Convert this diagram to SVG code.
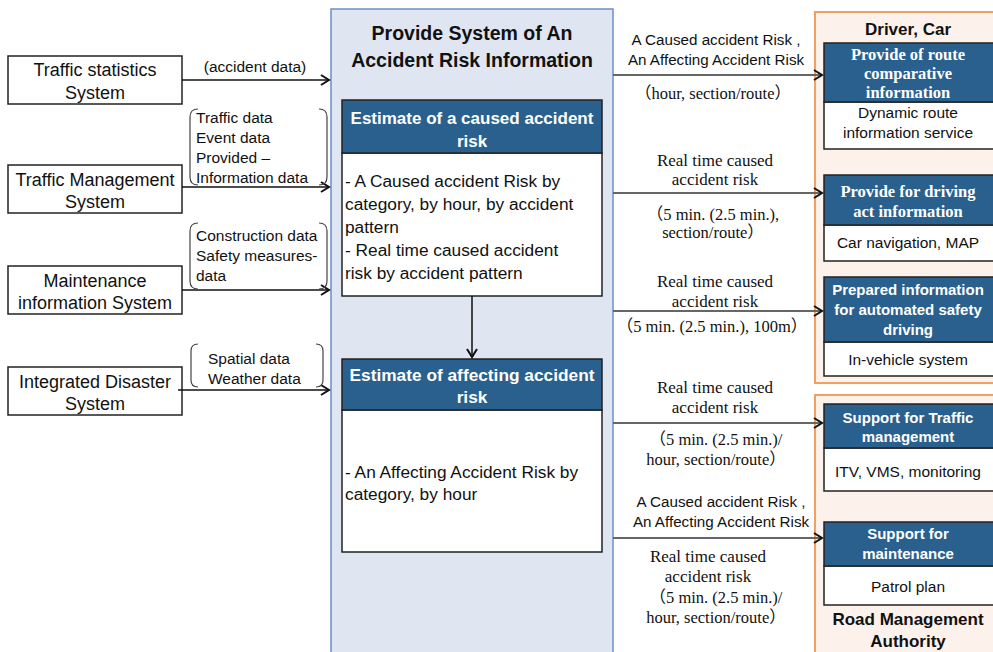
<svg xmlns="http://www.w3.org/2000/svg" width="993" height="652" viewBox="0 0 993 652">
<style>
.sans{font-family:"Liberation Sans",Arial,sans-serif;fill:#111}
.serif{font-family:"Liberation Serif","Noto Sans CJK JP",serif;fill:#111}
.box{fill:#fff;stroke:#222;stroke-width:1.5}
.hdr{fill:#29608d;stroke:#222;stroke-width:1.5}
.hw{font-family:"Liberation Sans",Arial,sans-serif;font-weight:bold;fill:#fff}
.hws{font-family:"Liberation Serif",serif;font-weight:bold;fill:#fff}
.panel{fill:#fdf2eb;stroke:#f0a062;stroke-width:2}
.lc{stroke:#111;stroke-width:1.5;fill:none}
.rc{stroke:#666;stroke-width:2;fill:none}
.br{stroke:#444;stroke-width:1.2;fill:none}
</style>
<defs>
<marker id="ah" markerUnits="userSpaceOnUse" markerWidth="12" markerHeight="14" refX="9" refY="6" orient="auto">
<path d="M1,1 L9,6 L1,11" fill="none" stroke="#111" stroke-width="2"/>
</marker>
</defs>
<rect width="993" height="652" fill="#fff"/>

<g id="center-panel">
<rect x="331" y="9" width="282" height="650" fill="#dfe6f2" stroke="#6b90c8" stroke-width="1.5"/>
<text class="sans" x="472" y="40" font-size="19.5" font-weight="bold" text-anchor="middle">Provide System of An</text>
<text class="sans" x="472" y="67" font-size="19.5" font-weight="bold" text-anchor="middle">Accident Risk Information</text>
</g>

<g id="caused-risk">
<rect class="box" x="342" y="153" width="260" height="143"/>
<rect class="hdr" x="342" y="100" width="260" height="53"/>
<text class="hw" x="472" y="124" font-size="17" text-anchor="middle">Estimate of a caused accident</text>
<text class="hw" x="472" y="147" font-size="17" text-anchor="middle">risk</text>
<text class="sans" x="345" y="187" font-size="17.3">- A Caused accident Risk by</text>
<text class="sans" x="345" y="210" font-size="17.3">category, by hour,  by accident</text>
<text class="sans" x="345" y="233" font-size="17.3">pattern</text>
<text class="sans" x="345" y="256" font-size="17.3">- Real time caused accident</text>
<text class="sans" x="345" y="279" font-size="17.3">risk by accident pattern</text>
</g>

<g id="affecting-risk">
<rect class="box" x="342" y="410" width="260" height="142"/>
<rect class="hdr" x="342" y="359" width="260" height="51"/>
<text class="hw" x="472" y="381" font-size="17.3" text-anchor="middle">Estimate of affecting accident</text>
<text class="hw" x="472" y="403" font-size="17.3" text-anchor="middle">risk</text>
<text class="sans" x="345" y="478" font-size="17.3">- An Affecting Accident Risk by</text>
<text class="sans" x="345" y="500" font-size="17.3">category, by hour</text>
</g>

<g id="traffic-statistics">
<rect class="box" x="8" y="56" width="174" height="48"/>
<text class="sans" x="95" y="76" font-size="18" text-anchor="middle">Traffic statistics</text>
<text class="sans" x="95" y="99" font-size="18" text-anchor="middle">System</text>
</g>
<g id="traffic-management">
<rect class="box" x="8" y="165" width="174" height="48"/>
<text class="sans" x="95" y="186" font-size="18" text-anchor="middle">Traffic Management</text>
<text class="sans" x="95" y="208" font-size="18" text-anchor="middle">System</text>
</g>
<g id="maintenance">
<rect class="box" x="8" y="266" width="174" height="48"/>
<text class="sans" x="95" y="287" font-size="18" text-anchor="middle">Maintenance</text>
<text class="sans" x="95" y="309" font-size="18" text-anchor="middle">information System</text>
</g>
<g id="integrated-disaster">
<rect class="box" x="8" y="367" width="174" height="48"/>
<text class="sans" x="95" y="388" font-size="18" text-anchor="middle">Integrated Disaster</text>
<text class="sans" x="95" y="410" font-size="18" text-anchor="middle">System</text>
</g>

<g id="driver-car">
<rect class="panel" x="815" y="12" width="200" height="371"/>
<text class="sans" x="908" y="35" font-size="17" font-weight="bold" text-anchor="middle">Driver, Car</text>
<rect class="box" x="824" y="102" width="170" height="47"/>
<rect class="hdr" x="824" y="43" width="170" height="59"/>
<text class="hws" x="908" y="60" font-size="16.5" text-anchor="middle">Provide of route</text>
<text class="hws" x="908" y="79" font-size="16.5" text-anchor="middle">comparative</text>
<text class="hws" x="908" y="98" font-size="16.5" text-anchor="middle">information</text>
<text class="sans" x="908" y="118" font-size="15.5" text-anchor="middle">Dynamic route</text>
<text class="sans" x="908" y="138" font-size="15.5" text-anchor="middle">information service</text>
<rect class="box" x="824" y="225" width="170" height="36"/>
<rect class="hdr" x="824" y="175" width="170" height="50"/>
<text class="hws" x="908" y="197" font-size="16.5" text-anchor="middle">Provide for driving</text>
<text class="hws" x="908" y="217" font-size="16.5" text-anchor="middle">act information</text>
<text class="sans" x="908" y="248" font-size="15.5" text-anchor="middle">Car navigation, MAP</text>
<rect class="box" x="824" y="342" width="170" height="34"/>
<rect class="hdr" x="824" y="277" width="170" height="65"/>
<text class="hw" x="908" y="295" font-size="15" text-anchor="middle">Prepared information</text>
<text class="hw" x="908" y="315" font-size="15" text-anchor="middle">for automated safety</text>
<text class="hw" x="908" y="335" font-size="15" text-anchor="middle">driving</text>
<text class="sans" x="908" y="365" font-size="15.5" text-anchor="middle">In-vehicle system</text>
</g>

<g id="road-management">
<rect class="panel" x="815" y="395" width="200" height="270"/>
<rect class="box" x="824" y="448" width="170" height="43"/>
<rect class="hdr" x="824" y="404" width="170" height="44"/>
<text class="hw" x="908" y="423" font-size="15" text-anchor="middle">Support for Traffic</text>
<text class="hw" x="908" y="442" font-size="15" text-anchor="middle">management</text>
<text class="sans" x="908" y="477" font-size="15.5" text-anchor="middle">ITV, VMS, monitoring</text>
<rect class="box" x="824" y="566" width="170" height="39"/>
<rect class="hdr" x="824" y="522" width="170" height="44"/>
<text class="hw" x="908" y="539" font-size="15" text-anchor="middle">Support for</text>
<text class="hw" x="908" y="559" font-size="15" text-anchor="middle">maintenance</text>
<text class="sans" x="908" y="592" font-size="15.5" text-anchor="middle">Patrol plan</text>
<text class="sans" x="908" y="625" font-size="17" font-weight="bold" text-anchor="middle">Road Management</text>
<text class="sans" x="908" y="647" font-size="17" font-weight="bold" text-anchor="middle">Authority</text>
</g>

<g id="connectors">
<line class="lc" x1="182" y1="80" x2="329" y2="80" marker-end="url(#ah)"/>
<line class="lc" x1="182" y1="187" x2="329" y2="187" marker-end="url(#ah)"/>
<line class="lc" x1="182" y1="290" x2="329" y2="290" marker-end="url(#ah)"/>
<line class="lc" x1="178" y1="390" x2="329" y2="390" marker-end="url(#ah)"/>
<line class="lc" x1="472" y1="296" x2="472" y2="357" marker-end="url(#ah)"/>
<line class="rc" x1="613" y1="75" x2="822" y2="75" marker-end="url(#ah)"/>
<line class="rc" x1="613" y1="193" x2="822" y2="193" marker-end="url(#ah)"/>
<line class="rc" x1="613" y1="311" x2="822" y2="311" marker-end="url(#ah)"/>
<line class="rc" x1="613" y1="423" x2="822" y2="423" marker-end="url(#ah)"/>
<line class="rc" x1="613" y1="538" x2="822" y2="538" marker-end="url(#ah)"/>

<path class="br" d="M198,109 Q190,109 190,117 L190,177 Q190,185 198,185"/>
<path class="br" d="M319,109 Q327,109 327,117 L327,177 Q327,185 319,185"/>
<path class="br" d="M198,223 Q190,223 190,231 L190,281 Q190,289 198,289"/>
<path class="br" d="M319,223 Q327,223 327,231 L327,281 Q327,289 319,289"/>
<path class="br" d="M198,344 Q191,344 191,351 L191,380 Q191,387 198,387"/>
<path class="br" d="M316,344 Q323,344 323,351 L323,380 Q323,387 316,387"/>

<text class="sans" x="255" y="72" font-size="15.5" text-anchor="middle">(accident data)</text>
<text class="sans" x="196" y="123" font-size="15.5">Traffic data</text>
<text class="sans" x="196" y="143" font-size="15.5">Event data</text>
<text class="sans" x="196" y="163" font-size="15.5">Provided –</text>
<text class="sans" x="196" y="183" font-size="15.5">Information data</text>
<text class="sans" x="196" y="241" font-size="15.5">Construction data</text>
<text class="sans" x="196" y="261" font-size="15.5">Safety measures-</text>
<text class="sans" x="196" y="281" font-size="15.5">data</text>
<text class="sans" x="208" y="364" font-size="15.5">Spatial data</text>
<text class="sans" x="208" y="384" font-size="15.5">Weather data</text>

<text class="sans" x="716" y="45" font-size="15.2" text-anchor="middle">A Caused accident Risk ,</text>
<text class="sans" x="716" y="65" font-size="15.2" text-anchor="middle">An Affecting Accident Risk</text>
<text class="serif" x="713" y="99" font-size="16.5" text-anchor="middle">（hour, section/route）</text>
<text class="serif" x="715" y="166" font-size="17" text-anchor="middle">Real time caused</text>
<text class="serif" x="715" y="185" font-size="17" text-anchor="middle">accident risk</text>
<text class="serif" x="713" y="220" font-size="16.5" text-anchor="middle">（5 min. (2.5 min.),</text>
<text class="serif" x="713" y="238" font-size="16.5" text-anchor="middle">section/route）</text>
<text class="serif" x="715" y="287" font-size="17" text-anchor="middle">Real time caused</text>
<text class="serif" x="715" y="307" font-size="17" text-anchor="middle">accident risk</text>
<text class="serif" x="712" y="332" font-size="16.5" text-anchor="middle">（5 min. (2.5 min.), 100m）</text>
<text class="serif" x="715" y="393" font-size="17" text-anchor="middle">Real time caused</text>
<text class="serif" x="715" y="413" font-size="17" text-anchor="middle">accident risk</text>
<text class="serif" x="716" y="445" font-size="16.5" text-anchor="middle">（5 min. (2.5 min.)/</text>
<text class="serif" x="716" y="465" font-size="16.5" text-anchor="middle">hour, section/route）</text>
<text class="sans" x="721" y="507" font-size="15.2" text-anchor="middle">A Caused accident Risk ,</text>
<text class="sans" x="721" y="527" font-size="15.2" text-anchor="middle">An Affecting Accident Risk</text>
<text class="serif" x="708" y="562" font-size="17" text-anchor="middle">Real time caused</text>
<text class="serif" x="708" y="582" font-size="17" text-anchor="middle">accident risk</text>
<text class="serif" x="716" y="603" font-size="16.5" text-anchor="middle">（5 min. (2.5 min.)/</text>
<text class="serif" x="716" y="623" font-size="16.5" text-anchor="middle">hour, section/route）</text>
</g>
</svg>
